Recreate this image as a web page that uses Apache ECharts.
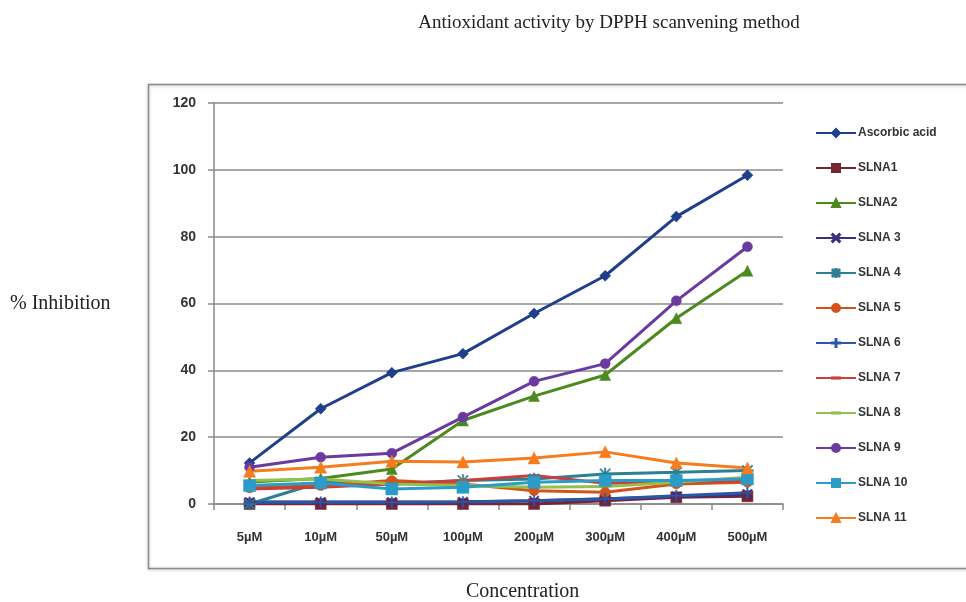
<!DOCTYPE html>
<html>
<head>
<meta charset="utf-8">
<script src="https://cdn.jsdelivr.net/npm/echarts@6/dist/echarts.min.js"></script>
<style>
  html, body { margin: 0; padding: 0; background: #fff; }
  #chart { width: 966px; height: 602px; }
</style>
</head>
<body>
<div id="chart"></div>
<script>
  // 浓度分类
  const categories = ['5µM', '10µM', '50µM', '100µM', '200µM', '300µM', '400µM', '500µM'];
  const yTicks = [0, 20, 40, 60, 80, 100, 120];

  // 各组抑制率 (%)
  const ascorbicAcid = [12.3, 28.5, 39.3, 45, 57, 68.3, 86, 98.4];
  const slna1 = [0, 0, 0, 0, 0, 1, 2, 2.3];
  const slna2 = [6.6, 7.6, 10.5, 25, 32.3, 38.6, 55.6, 69.8];
  const slna3 = [0.6, 0.6, 0.6, 0.7, 1, 1.6, 2.2, 3];
  const slna4 = [0, 6.5, 6, 7, 7.5, 9, 9.5, 10];
  const slna5 = [4.8, 5.5, 7, 6, 4, 3.5, 6, 6.5];
  const slna6 = [0.5, 0.5, 0.5, 0.6, 1, 1.5, 2.5, 3.4];
  const slna7 = [4.5, 5, 6, 7, 8.5, 6.2, 6.5, 7];
  const slna8 = [7, 7.5, 6, 5.5, 5, 5.2, 6.5, 8];
  const slna9 = [11, 14, 15.2, 26, 36.7, 42, 60.8, 77];
  const slna10 = [5.5, 6.3, 4.5, 5, 6.5, 7, 7, 7.5];
  const slna11 = [9.8, 11, 12.8, 12.6, 13.8, 15.6, 12.3, 10.8];

  const crossPath = 'path://M1,0L5,4L9,0L10,1L6,5L10,9L9,10L5,6L1,10L0,9L4,5L0,1Z';
  const plusPath = 'path://M4.4,0H5.6V4.4H10V5.6H5.6V10H4.4V5.6H0V4.4H4.4Z';
  const starPath = 'path://M4.4,0H5.6V4.4H10V5.6H5.6V10H4.4V5.6H0V4.4H4.4Z' +
    'M1.2,0.4L5,4.2L8.8,0.4L9.6,1.2L5.8,5L9.6,8.8L8.8,9.6L5,5.8L1.2,9.6L0.4,8.8L4.2,5L0.4,1.2Z';
  // 无标记系列：图例里只画一段线（两端的空点撑开包围盒）
  const barPath = 'path://M0,0L0,0M10,10L10,10M0,4.3H10V5.7H0Z';

  const seriesDefs = [
    { name: 'Ascorbic acid', data: ascorbicAcid, color: '#1f3f8c', symbol: 'diamond', size: 11 },
    { name: 'SLNA1', data: slna1, color: '#7a2430', symbol: 'rect', size: 11 },
    { name: 'SLNA2', data: slna2, color: '#4c8a1f', symbol: 'triangle', size: 11 },
    { name: 'SLNA 3', data: slna3, color: '#3f2e7c', symbol: crossPath, size: 10 },
    { name: 'SLNA 4', data: slna4, color: '#2d7f93', symbol: starPath, size: 12 },
    { name: 'SLNA 5', data: slna5, color: '#d2541a', symbol: 'circle', size: 10 },
    { name: 'SLNA 6', data: slna6, color: '#2a58a8', symbol: plusPath, size: 11 },
    { name: 'SLNA 7', data: slna7, color: '#c6403c', symbol: barPath, size: 10, noMarker: true },
    { name: 'SLNA 8', data: slna8, color: '#92c050', symbol: barPath, size: 10, noMarker: true },
    { name: 'SLNA 9', data: slna9, color: '#6a3aa0', symbol: 'circle', size: 10 },
    { name: 'SLNA 10', data: slna10, color: '#2b9cc8', symbol: 'rect', size: 12 },
    { name: 'SLNA 11', data: slna11, color: '#f57c1f', symbol: 'triangle', size: 12 },
  ];

  const chartInstance = echarts.init(document.getElementById('chart'));

  const serifText = { fontFamily: 'Liberation Serif', fontSize: 20, fill: '#222' };

  const option = {
    animation: false,
    backgroundColor: '#fff',
    title: {
      text: 'Antioxidant activity by DPPH scanvening method',
      left: 604,
      top: 9,
      textAlign: 'center',
      textStyle: {
        fontFamily: 'Liberation Serif',
        fontWeight: 'normal',
        fontSize: 19,
        color: '#222',
      },
    },
    graphic: [
      {
        type: 'rect',
        shape: { x: 148.5, y: 84.5, width: 830, height: 484 },
        style: { fill: 'none', stroke: '#8a8a8a', lineWidth: 1.5, shadowColor: 'rgba(0,0,0,0.25)', shadowBlur: 3, shadowOffsetY: 1 },
        z: -1,
      },
      {
        type: 'text',
        left: 10,
        top: 294,
        style: Object.assign({ text: '% Inhibition' }, serifText),
      },
      {
        type: 'text',
        left: 466,
        top: 582,
        style: Object.assign({ text: 'Concentration' }, serifText),
      },
    ],
    legend: {
      orient: 'vertical',
      left: 810,
      top: 122,
      itemGap: 23,
      itemWidth: 40,
      itemHeight: 10,
      textStyle: {
        fontFamily: 'Liberation Sans',
        fontWeight: 'bold',
        fontSize: 12,
        color: '#333',
        padding: [0, 0, 0, -3],
      },
      data: seriesDefs.map((s) => s.name),
    },
    grid: {
      left: 214,
      top: 103,
      right: 183,
      bottom: 98,
      containLabel: false,
    },
    xAxis: {
      type: 'category',
      data: categories,
      boundaryGap: true,
      axisLine: { lineStyle: { color: '#8a8a8a', width: 1.5 } },
      axisTick: { show: true, length: 6, inside: false, lineStyle: { color: '#8a8a8a', width: 1.5 } },
      axisLabel: {
        margin: 27,
        color: '#333',
        fontFamily: 'Liberation Sans',
        fontWeight: 'bold',
        fontSize: 13,
      },
    },
    yAxis: {
      type: 'value',
      min: yTicks[0],
      max: yTicks[yTicks.length - 1],
      interval: 20,
      axisLine: { show: true, lineStyle: { color: '#8a8a8a', width: 1.5 } },
      axisTick: { show: true, length: 6, lineStyle: { color: '#8a8a8a', width: 1.5 } },
      axisLabel: {
        margin: 18,
        color: '#333',
        fontFamily: 'Liberation Sans',
        fontWeight: 'bold',
        fontSize: 14,
      },
      splitLine: { show: true, lineStyle: { color: '#8a8a8a', width: 1.5 } },
    },
    series: seriesDefs.map((s) => ({
      name: s.name,
      type: 'line',
      data: s.data,
      symbol: s.symbol,
      symbolSize: s.size,
      showSymbol: !s.noMarker,
      lineStyle: { color: s.color, width: 3 },
      itemStyle: { color: s.color, borderColor: s.color, borderWidth: 0.5 },
      emphasis: { disabled: true },
    })),
  };

  chartInstance.setOption(option);
</script>
</body>
</html>
